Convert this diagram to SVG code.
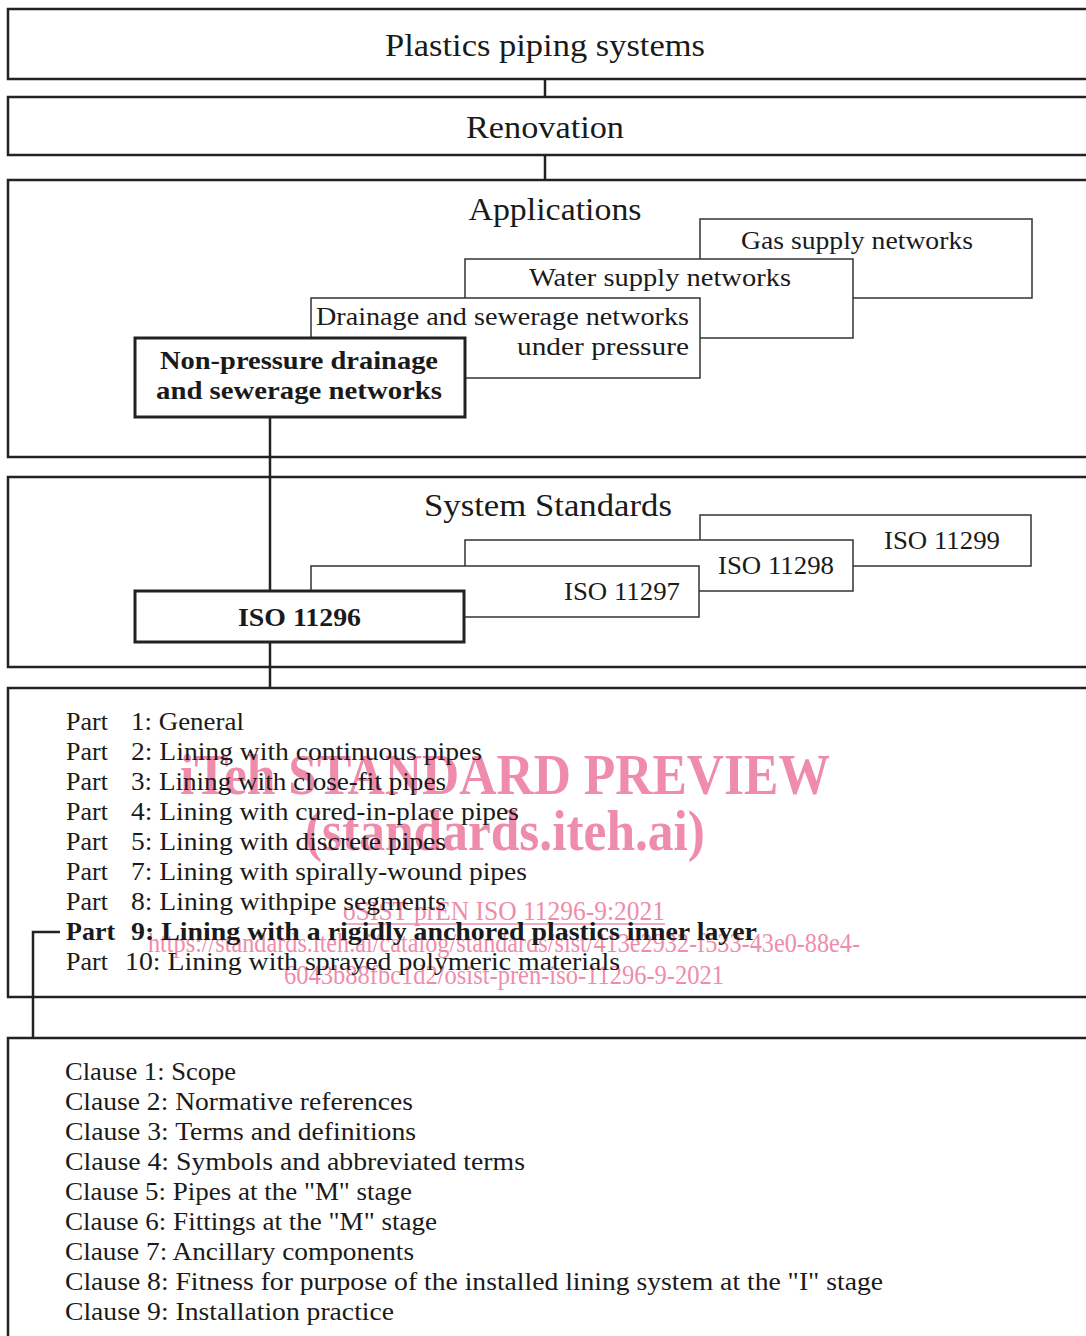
<svg xmlns="http://www.w3.org/2000/svg" width="1086" height="1336" viewBox="0 0 1086 1336">
<style>
  .frame{fill:none;stroke:#222;stroke-width:2.5}
  .sub{fill:#fff;stroke:#333;stroke-width:1.5}
  .key{fill:#fff;stroke:#222;stroke-width:3}
  .conn{fill:none;stroke:#222;stroke-width:2.5}
  text{font-family:"Liberation Serif","DejaVu Serif",serif;fill:#1a1a1a}
  .t30{font-size:31px}
  .t25{font-size:26px}
  .b{font-weight:bold}
  .wm{fill:#ef8cab;font-family:"Liberation Serif",serif}
</style>
<rect width="1086" height="1336" fill="#fff"/>

<g id="watermark">
  <text class="wm" x="180" y="794" font-size="58" font-weight="bold" textLength="650" lengthAdjust="spacingAndGlyphs">iTeh STANDARD PREVIEW</text>
  <text class="wm" x="305" y="850" font-size="58" font-weight="bold" textLength="400" lengthAdjust="spacingAndGlyphs">(standards.iteh.ai)</text>
  <text class="wm" x="343" y="920" font-size="28" textLength="322" lengthAdjust="spacingAndGlyphs">oSIST prEN ISO 11296-9:2021</text>
  <line x1="343" y1="924" x2="665" y2="924" stroke="#ef8cab" stroke-width="1.5"/>
  <text class="wm" x="148" y="952" font-size="28" textLength="712" lengthAdjust="spacingAndGlyphs">https://standards.iteh.ai/catalog/standards/sist/413e2932-f533-43e0-88e4-</text>
  <text class="wm" x="284" y="984" font-size="28" textLength="440" lengthAdjust="spacingAndGlyphs">6043b88fbc1d2/osist-pren-iso-11296-9-2021</text>
</g>

<g id="connectors">
  <line class="conn" x1="545" y1="79" x2="545" y2="97" stroke-width="2"/>
  <line class="conn" x1="545" y1="155" x2="545" y2="180" stroke-width="2"/>
  <line class="conn" x1="270" y1="417" x2="270" y2="591" stroke-width="3"/>
  <line class="conn" x1="270" y1="642" x2="270" y2="688" stroke-width="3"/>
  <path class="conn" d="M60,932 H33 V1038" stroke-width="3"/>
</g>

<g id="plastics">
  <rect class="frame" x="8" y="9" width="1100" height="70"/>
  <text class="t30" x="545" y="56" text-anchor="middle" textLength="320" lengthAdjust="spacingAndGlyphs">Plastics piping systems</text>
</g>

<g id="renovation">
  <rect class="frame" x="8" y="97" width="1100" height="58"/>
  <text class="t30" x="545" y="138" text-anchor="middle" textLength="158" lengthAdjust="spacingAndGlyphs">Renovation</text>
</g>

<g id="applications">
  <rect class="frame" x="8" y="180" width="1100" height="277"/>
  <text class="t30" x="555" y="220" text-anchor="middle" textLength="173" lengthAdjust="spacingAndGlyphs">Applications</text>
</g>
<g id="gas">
  <rect class="sub" x="700" y="219" width="332" height="79"/>
  <text class="t25" x="741" y="249" textLength="232" lengthAdjust="spacingAndGlyphs">Gas supply networks</text>
</g>
<g id="water">
  <rect class="sub" x="465" y="259" width="388" height="79"/>
  <text class="t25" x="529" y="286" textLength="262" lengthAdjust="spacingAndGlyphs">Water supply networks</text>
</g>
<g id="drainage-pressure">
  <rect class="sub" x="311" y="298" width="389" height="80"/>
  <text class="t25" x="316" y="325" textLength="373" lengthAdjust="spacingAndGlyphs">Drainage and sewerage networks</text>
  <text class="t25" x="517" y="355" textLength="172" lengthAdjust="spacingAndGlyphs">under pressure</text>
</g>
<g id="non-pressure">
  <rect class="key" x="135" y="338" width="330" height="79"/>
  <text class="t25 b" x="160" y="369" textLength="278" lengthAdjust="spacingAndGlyphs">Non-pressure drainage</text>
  <text class="t25 b" x="156" y="399" textLength="286" lengthAdjust="spacingAndGlyphs">and sewerage networks</text>
</g>

<g id="system-standards">
  <rect class="frame" x="8" y="477" width="1100" height="190"/>
  <text class="t30" x="424" y="516" textLength="248" lengthAdjust="spacingAndGlyphs">System Standards</text>
</g>
<g id="iso11299">
  <rect class="sub" x="700" y="515" width="331" height="51"/>
  <text class="t25" x="884" y="549" textLength="116" lengthAdjust="spacingAndGlyphs">ISO 11299</text>
</g>
<g id="iso11298">
  <rect class="sub" x="465" y="540" width="388" height="51"/>
  <text class="t25" x="718" y="574" textLength="116" lengthAdjust="spacingAndGlyphs">ISO 11298</text>
</g>
<g id="iso11297">
  <rect class="sub" x="311" y="566" width="388" height="51"/>
  <text class="t25" x="564" y="600" textLength="116" lengthAdjust="spacingAndGlyphs">ISO 11297</text>
</g>
<g id="iso11296">
  <rect class="key" x="135" y="591" width="329" height="51"/>
  <text class="t25 b" x="238" y="626" textLength="123" lengthAdjust="spacingAndGlyphs">ISO 11296</text>
</g>

<g id="parts">
  <rect class="frame" x="8" y="688" width="1100" height="309"/>
  <g class="t25">
    <text x="66" y="730">Part</text><text x="131" y="730" textLength="113" lengthAdjust="spacingAndGlyphs">1: General</text>
    <text x="66" y="760">Part</text><text x="131" y="760" textLength="351" lengthAdjust="spacingAndGlyphs">2: Lining with continuous pipes</text>
    <text x="66" y="790">Part</text><text x="131" y="790" textLength="315" lengthAdjust="spacingAndGlyphs">3: Lining with close-fit pipes</text>
    <text x="66" y="820">Part</text><text x="131" y="820" textLength="388" lengthAdjust="spacingAndGlyphs">4: Lining with cured-in-place pipes</text>
    <text x="66" y="850">Part</text><text x="131" y="850" textLength="315" lengthAdjust="spacingAndGlyphs">5: Lining with discrete pipes</text>
    <text x="66" y="880">Part</text><text x="131" y="880" textLength="396" lengthAdjust="spacingAndGlyphs">7: Lining with spirally-wound pipes</text>
    <text x="66" y="910">Part</text><text x="131" y="910" textLength="315" lengthAdjust="spacingAndGlyphs">8: Lining withpipe segments</text>
    <text class="b" x="66" y="940">Part</text><text class="b" x="131" y="940" textLength="626" lengthAdjust="spacingAndGlyphs">9: Lining with a rigidly anchored plastics inner layer</text>
    <text x="66" y="970">Part</text><text x="125" y="970" textLength="495" lengthAdjust="spacingAndGlyphs">10: Lining with sprayed polymeric materials</text>
  </g>
</g>

<g id="clauses">
  <rect class="frame" x="8" y="1038" width="1100" height="310"/>
  <g class="t25">
    <text x="65" y="1080" textLength="171" lengthAdjust="spacingAndGlyphs">Clause 1: Scope</text>
    <text x="65" y="1110" textLength="348" lengthAdjust="spacingAndGlyphs">Clause 2: Normative references</text>
    <text x="65" y="1140" textLength="351" lengthAdjust="spacingAndGlyphs">Clause 3: Terms and definitions</text>
    <text x="65" y="1170" textLength="460" lengthAdjust="spacingAndGlyphs">Clause 4: Symbols and abbreviated terms</text>
    <text x="65" y="1200" textLength="347" lengthAdjust="spacingAndGlyphs">Clause 5: Pipes at the "M" stage</text>
    <text x="65" y="1230" textLength="372" lengthAdjust="spacingAndGlyphs">Clause 6: Fittings at the "M" stage</text>
    <text x="65" y="1260" textLength="349" lengthAdjust="spacingAndGlyphs">Clause 7: Ancillary components</text>
    <text x="65" y="1290" textLength="818" lengthAdjust="spacingAndGlyphs">Clause 8: Fitness for purpose of the installed lining system at the "I" stage</text>
    <text x="65" y="1320" textLength="329" lengthAdjust="spacingAndGlyphs">Clause 9: Installation practice</text>
  </g>
</g>
</svg>
